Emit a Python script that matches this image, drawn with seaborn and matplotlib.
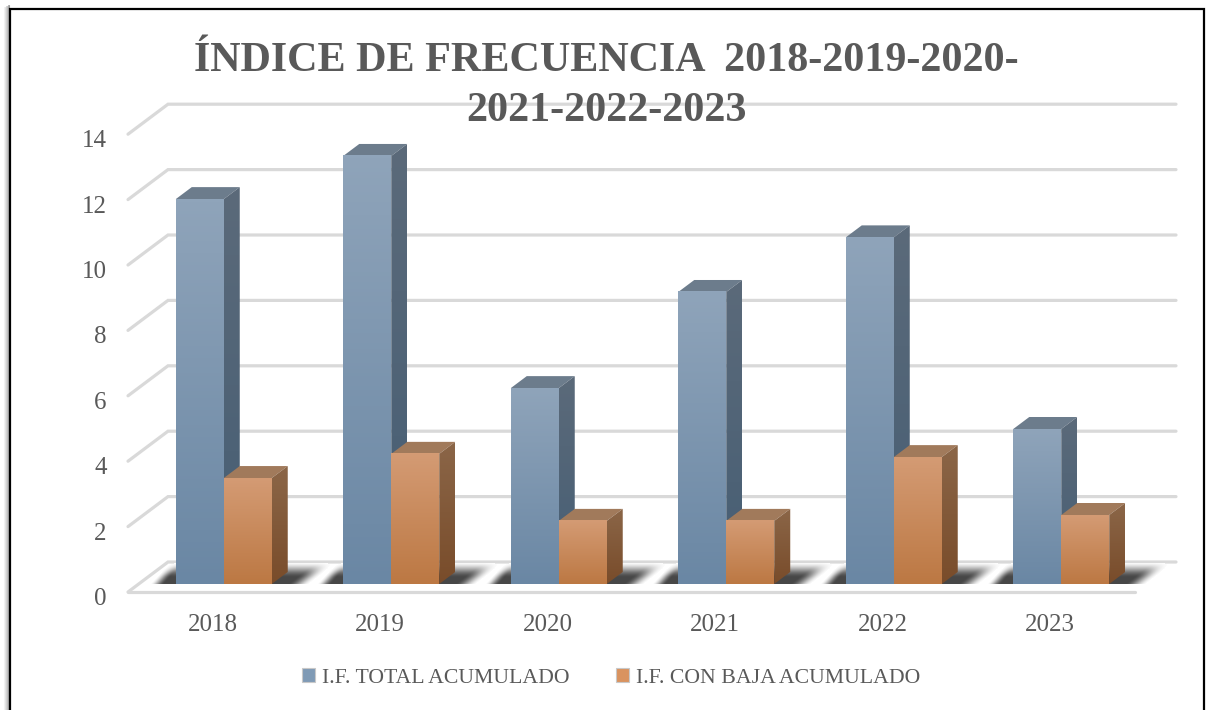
import numpy as np
import pandas as pd
import matplotlib
matplotlib.use("Agg")
import matplotlib.pyplot as plt
import seaborn as sns
from matplotlib.colors import LinearSegmentedColormap
from matplotlib.lines import Line2D
from matplotlib.patches import Patch, Polygon
from matplotlib.transforms import ScaledTranslation

years = ["2018", "2019", "2020", "2021", "2022", "2023"]
total = [11.77, 13.09, 5.99, 8.93, 10.6, 4.74]
con_baja = [3.24, 3.98, 1.93, 1.93, 3.88, 2.11]
series_names = ["I.F. TOTAL ACUMULADO", "I.F. CON BAJA ACUMULADO"]
y_ticks = [0, 2, 4, 6, 8, 10, 12, 14]
title = "ÍNDICE DE FRECUENCIA  2018-2019-2020-\n2021-2022-2023"

df = pd.DataFrame({
    "year": years * 2,
    "value": total + con_baja,
    "serie": [series_names[0]] * 6 + [series_names[1]] * 6,
})

sns.set_style("white")
plt.rcParams["font.family"] = ["Liberation Serif", "DejaVu Serif"]

W, H = 1210, 710
fig = plt.figure(figsize=(W / 100, H / 100), dpi=100)
# axes span in pixels of the picture
X0, X1, Y0, Y1 = 140, 1145, 584, 126.2
ax = fig.add_axes([X0 / W, 1 - Y0 / H, (X1 - X0) / W, (Y0 - Y1) / H])

legend_colors = ["#7F9AB5", "#D9935F"]
sns.barplot(data=df, x="year", y="value", hue="serie", palette=legend_colors,
            width=0.573, gap=0, legend=False, ax=ax, zorder=1)

PX = 6 / (X1 - X0)
PY = 14 / (Y0 - Y1)

def to_x(px):
    return (px - X0) * PX - 0.5

# gridlines: back wall, and the diagonal on the left wall
GRID = "#D9D9D9"
for v in y_ticks:
    yb = v + 22 * PY
    yf = v - 8 * PY
    ax.plot([to_x(128), to_x(168), to_x(1176)], [yf, yb, yb], color=GRID, lw=2.3,
            clip_on=False, zorder=0.5, solid_joinstyle="miter")
ax.plot([to_x(128), to_x(1135)], [-8 * PY, -8 * PY], color=GRID, lw=2.3, clip_on=False, zorder=0.5)

def cmap_of(top, bottom):
    return LinearSegmentedColormap.from_list("g", [top, bottom])

def ramp(t):
    t = np.clip(t, 0, 1)
    return t * t * (3 - 2 * t)

grad = np.linspace(0, 1, 128).reshape(-1, 1)

styles = [
    {"front": cmap_of("#8FA4BA", "#6A87A4"), "side": cmap_of("#5B6A7A", "#465E74"), "top": "#6C7C8C"},
    {"front": cmap_of("#D49B74", "#BC7843"), "side": cmap_of("#8B6648", "#794C2A"), "top": "#A17A5B"},
]

DX, DY = 16 * PX, 12 * PY
z = 3
for i in range(len(years)):
    blue = ax.containers[0][i]
    orange = ax.containers[1][i]
    # soft floor shadow as a grey image, in pixels from the bar's left foot
    xl, xr = blue.get_x(), orange.get_x() + orange.get_width()
    span = (xr - xl) / PX
    u, v = np.meshgrid(np.arange(-40, span + 80), np.arange(0, 22))
    left = ramp((u - (-26 + v * 0.9)) / 14)
    right = ramp(((span + 38 + v * 1.3) - u) / 22)
    up = ramp((22 - v) / 16)
    dark = 0.72 * left * right * up
    shade = np.ones(u.shape + (4,))
    shade[..., :3] = (1 - dark)[..., None]
    shade[..., 3] = (dark > 0.01).astype(float)
    ax.imshow(shade, extent=(xl - 40 * PX, xr + 80 * PX, 0, 22 * PY), origin="lower",
              aspect="auto", zorder=2, clip_on=False, interpolation="nearest")
    for bar, st in zip((blue, orange), styles):
        x, w, h = bar.get_x(), bar.get_width(), bar.get_height()
        top = Polygon([(x, h), (x + w, h), (x + w + DX, h + DY), (x + DX, h + DY)],
                      closed=True, facecolor=st["top"], edgecolor="none", zorder=z, clip_on=False)
        ax.add_patch(top)
        side = Polygon([(x + w, 0), (x + w + DX, DY), (x + w + DX, h + DY), (x + w, h)],
                       closed=True, facecolor="none", edgecolor="none", zorder=z, clip_on=False)
        ax.add_patch(side)
        im = ax.imshow(grad, extent=(x + w, x + w + DX, 0, h + DY), aspect="auto",
                       cmap=st["side"], zorder=z, clip_on=True)
        im.set_clip_path(side)
        ax.imshow(grad, extent=(x, x + w, 0, h), aspect="auto", cmap=st["front"], zorder=z + 0.1, clip_on=False)
        bar.set_visible(False)
        z += 1

ax.set_xlim(-0.5, 5.5)
ax.set_ylim(0, 14)
ax.set_xlabel("")
ax.set_ylabel("")
ax.set_yticks(y_ticks)
ax.tick_params(axis="both", length=0, labelsize=18, labelcolor="#595959")
ax.tick_params(axis="x", pad=21.5)
ax.tick_params(axis="y", pad=24)
for lab in ax.get_yticklabels():
    lab.set_transform(lab.get_transform() + ScaledTranslation(0, -9 / 72, fig.dpi_scale_trans))
for lab in ax.get_xticklabels():
    lab.set_transform(lab.get_transform() + ScaledTranslation(-0.11, 0, fig.dpi_scale_trans))
sns.despine(ax=ax, left=True, bottom=True)
ax.patch.set_alpha(0)
ax.grid(False)

fig.text(606 / W, 1 - 86 / H, title, ha="center", va="center", fontsize=30.3, fontweight="bold",
         color="#595959", linespacing=1.4, zorder=10)

handles = [Patch(facecolor=c, edgecolor="#C8C8C8", lw=0.8, label=n) for c, n in zip(legend_colors, series_names)]
fig.legend(handles=handles, loc="center", bbox_to_anchor=(611 / W, 1 - 678 / H), ncol=2, frameon=False,
           fontsize=15.7, labelcolor="#595959", handlelength=0.6, handleheight=0.6,
           handletextpad=0.3, columnspacing=2.15)

# page frame: open at the bottom, soft shadow on the left
for k, a in enumerate([0.05, 0.1, 0.16, 0.22, 0.3, 0.38]):
    fig.add_artist(Line2D([(3.5 + k) / W] * 2, [0, 1 - (7 - k * 0.5) / H], color="black", alpha=a, lw=0.8))
fig.add_artist(Line2D([9.5 / W, 9.5 / W, 1203.5 / W, 1203.5 / W], [0, 1 - 9 / H, 1 - 9 / H, 0],
                      color="black", lw=1.6, solid_joinstyle="miter"))

fig.savefig("out.png", dpi=100)
